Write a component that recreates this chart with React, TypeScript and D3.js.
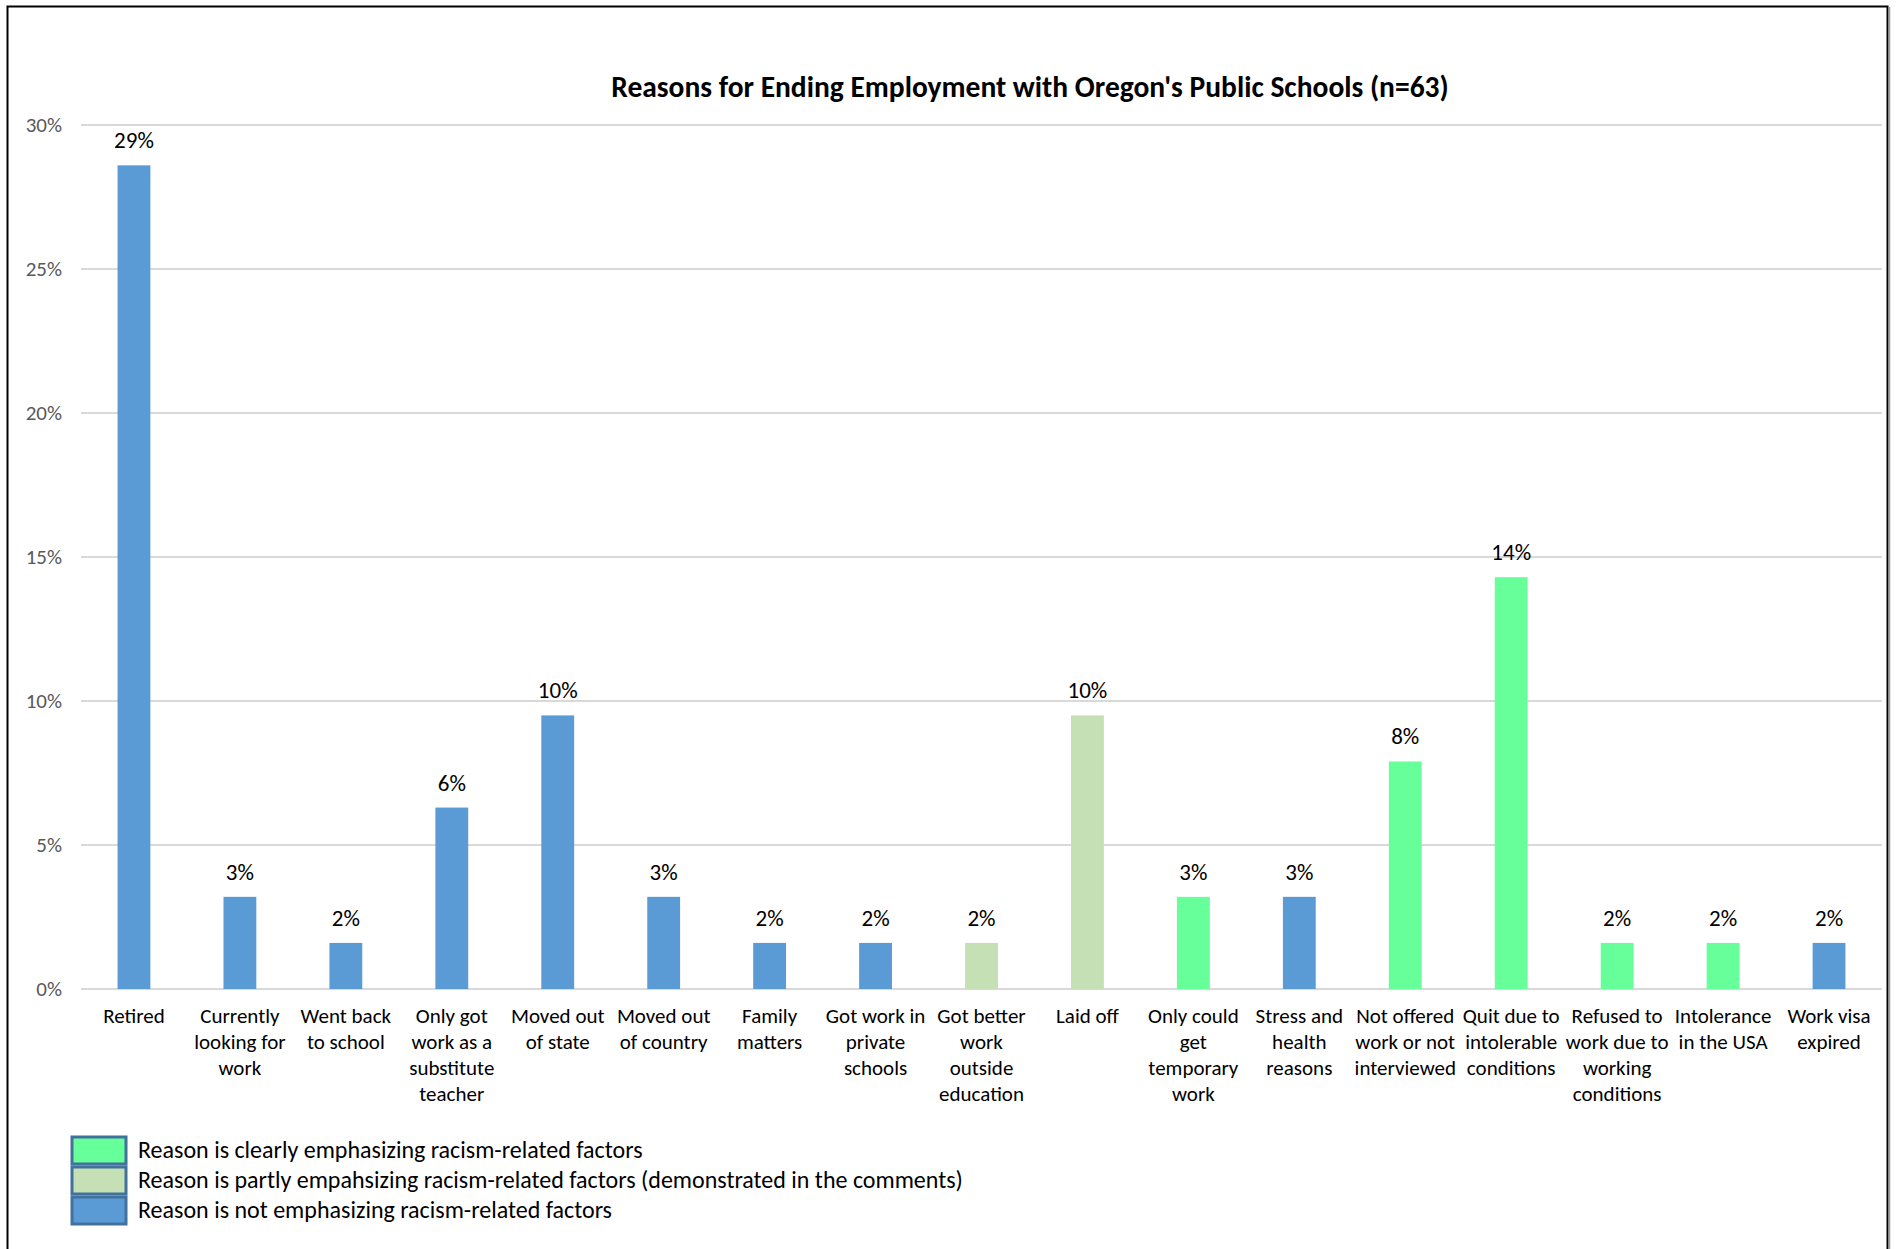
import React from "react";
import * as d3 from "d3";

// chart data (percent of n=63 respondents)
const categories = [
  ["Retired"],
  ["Currently", "looking for", "work"],
  ["Went back", "to school"],
  ["Only got", "work as a", "substitute", "teacher"],
  ["Moved out", "of state"],
  ["Moved out", "of country"],
  ["Family", "matters"],
  ["Got work in", "private", "schools"],
  ["Got better", "work", "outside", "education"],
  ["Laid off"],
  ["Only could", "get", "temporary", "work"],
  ["Stress and", "health", "reasons"],
  ["Not offered", "work or not", "interviewed"],
  ["Quit due to", "intolerable", "conditions"],
  ["Refused to", "work due to", "working", "conditions"],
  ["Intolerance", "in the USA"],
  ["Work visa", "expired"],
];
const values = [28.6, 3.2, 1.6, 6.3, 9.5, 3.2, 1.6, 1.6, 1.6, 9.5, 3.2, 3.2, 7.9, 14.3, 1.6, 1.6, 1.6];
const groups = [
  "not", "not", "not", "not", "not", "not", "not", "not",
  "partly", "partly", "clearly", "not", "clearly", "clearly", "clearly", "clearly", "not",
];
const yTicks = [0, 5, 10, 15, 20, 25, 30];
const legendItems = [
  { key: "clearly", label: "Reason is clearly emphasizing racism-related factors" },
  { key: "partly", label: "Reason is partly empahsizing racism-related factors (demonstrated in the comments)" },
  { key: "not", label: "Reason is not emphasizing racism-related factors" },
];

const colors = { clearly: "#66FF99", partly: "#C5E0B4", not: "#5B9BD5" };
const FONT = "Carlito, Calibri, Lato, 'Open Sans', sans-serif";

export default function App() {
  const W = 1899;
  const H = 1249;
  const plot = { left: 81, right: 1882, top: 125, bottom: 989 };

  const x = d3
    .scaleBand<number>()
    .domain(values.map((_, i) => i))
    .range([plot.left, plot.right])
    .paddingInner(0.69)
    .paddingOuter(0.345);

  const y = d3.scaleLinear().domain([0, 30]).range([plot.bottom, plot.top]);
  const fmt = (v: number) => `${Math.round(v)}%`;

  return (
    <div style={{ position: "absolute", left: 0, top: 0 }}>
      <svg width={W} height={H} style={{ display: "block", fontFamily: FONT }}>
        <rect x={0} y={0} width={W} height={H} fill="#fff" />
        {/* frame */}
        <rect x={7.5} y={6.5} width={1880} height={1300} fill="none" stroke="#000" strokeWidth={2} />
        <line x1={1889.5} x2={1889.5} y1={7} y2={H} stroke="#9a9a9a" strokeWidth={1.5} />

        <text x={1030} y={97} textAnchor="middle" fontSize={29.5} fontWeight="bold" fill="#000">
          Reasons for Ending Employment with Oregon's Public Schools (n=63)
        </text>

        {/* gridlines + y ticks */}
        {yTicks.map((t) => (
          <g key={t}>
            <line x1={plot.left} x2={plot.right} y1={y(t)} y2={y(t)} stroke="#d9d9d9" strokeWidth={2} />
            <text x={62} y={y(t)} dy="0.35em" textAnchor="end" fontSize={21} fill="#595959">
              {t}%
            </text>
          </g>
        ))}

        {/* bars */}
        {values.map((v, i) => (
          <g key={i}>
            <rect
              x={x(i)}
              y={y(v)}
              width={x.bandwidth()}
              height={y(0) - y(v)}
              fill={colors[groups[i]]}
            />
            <text x={x(i)! + x.bandwidth() / 2} y={y(v) - 17} textAnchor="middle" fontSize={23} fill="#000">
              {fmt(v)}
            </text>
            <text x={x(i)! + x.bandwidth() / 2} y={1023} textAnchor="middle" fontSize={21} fill="#000">
              {categories[i].map((line, j) => (
                <tspan key={j} x={x(i)! + x.bandwidth() / 2} dy={j === 0 ? 0 : 26}>
                  {line}
                </tspan>
              ))}
            </text>
          </g>
        ))}

        {/* legend */}
        {legendItems.map((d, i) => (
          <g key={d.key} transform={`translate(0, ${1137 + i * 30})`}>
            <rect x={72} y={0} width={54} height={27} fill={colors[d.key]} stroke="#41719C" strokeWidth={3} />
            <text x={138} y={21} fontSize={24} fill="#000">
              {d.label}
            </text>
          </g>
        ))}
      </svg>
    </div>
  );
}
